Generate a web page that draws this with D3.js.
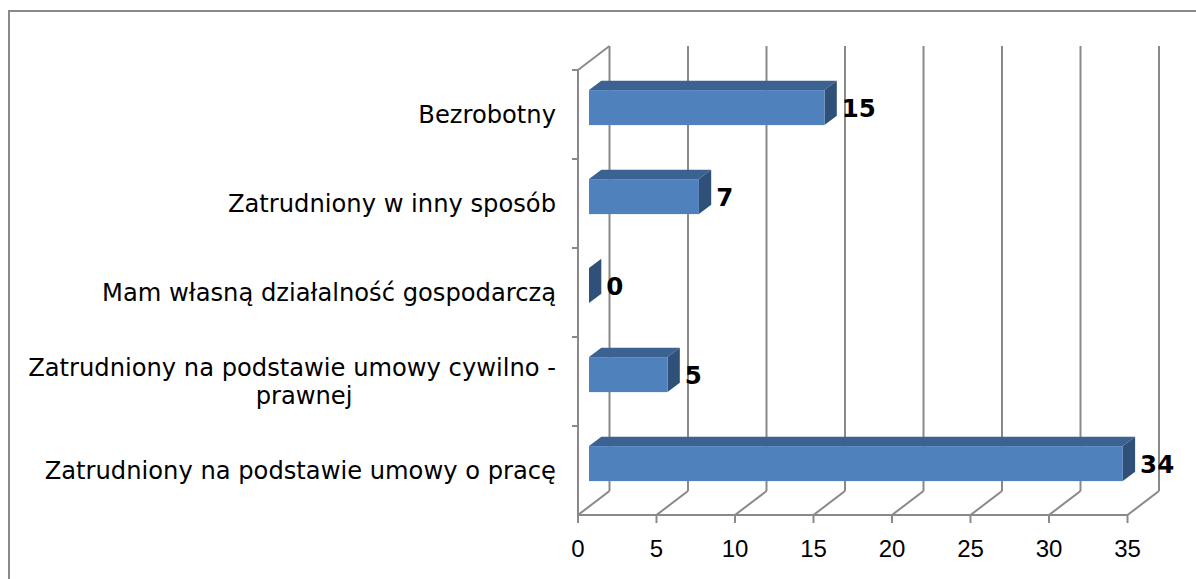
<!DOCTYPE html>
<html>
<head>
<meta charset="utf-8">
<script src="https://cdn.jsdelivr.net/npm/d3@7"></script>
<style>
  body { margin: 0; background: #fff; }
  svg { display: block; }
</style>
</head>
<body>
<div id="chart"></div>
<script>
// categories listed bottom to top, like the spreadsheet
const categories = [
  "Zatrudniony na podstawie umowy o pracę",
  "Zatrudniony na podstawie umowy cywilno - prawnej",
  "Mam własną działalność gospodarczą",
  "Zatrudniony w inny sposób",
  "Bezrobotny"
]
const values = [34, 5, 0, 7, 15]
const xTicks = [0, 5, 10, 15, 20, 25, 30, 35]

const width = 1196, height = 579
// depth offset of the back wall (3d look)
const DX = 31.5, DY = -24
const barFront = 0.35, barBack = 0.74
const barH = 35

const svg = d3.select("#chart")
  .append("svg")
  .attr("width", width)
  .attr("height", height)

svg.append("rect")
  .attr("width", width).attr("height", height)
  .attr("fill", "#fff")

// chart border (runs off the right/bottom of the picture)
svg.append("rect")
  .attr("x", 9).attr("y", 11)
  .attr("width", 1300).attr("height", 700)
  .attr("fill", "none")
  .attr("stroke", "#898989")
  .attr("stroke-width", 2)

const x = d3.scaleLinear()
  .domain([0, 35])
  .range([578, 1127.5])

const y = d3.scaleBand()
  .domain(categories)
  .range([515, 70])

const grid = "#898989"
const g = svg.append("g")

// back wall gridlines
g.selectAll(".vgrid")
  .data(xTicks)
  .join("line")
  .attr("x1", d => x(d) + DX).attr("x2", d => x(d) + DX)
  .attr("y1", 70 + DY).attr("y2", 515 + DY)
  .attr("stroke", grid).attr("stroke-width", 2)

// floor lines
g.selectAll(".floor")
  .data(xTicks)
  .join("line")
  .attr("x1", d => x(d)).attr("x2", d => x(d) + DX)
  .attr("y1", 515).attr("y2", 515 + DY)
  .attr("stroke", grid).attr("stroke-width", 2)

// left wall: front edge and top edge
g.append("line")
  .attr("x1", x(0)).attr("x2", x(0))
  .attr("y1", 70).attr("y2", 515)
  .attr("stroke", grid).attr("stroke-width", 2)
g.append("line")
  .attr("x1", x(0)).attr("x2", x(0) + DX)
  .attr("y1", 70).attr("y2", 70 + DY)
  .attr("stroke", grid).attr("stroke-width", 2)
// front floor edge
g.append("line")
  .attr("x1", x(0)).attr("x2", x(35))
  .attr("y1", 515).attr("y2", 515)
  .attr("stroke", grid).attr("stroke-width", 2)

// ticks
g.selectAll(".xtick")
  .data(xTicks)
  .join("line")
  .attr("x1", d => x(d)).attr("x2", d => x(d))
  .attr("y1", 515).attr("y2", 523)
  .attr("stroke", grid).attr("stroke-width", 2)

const bounds = categories.map(c => y(c)).concat([70])
g.selectAll(".ytick")
  .data(bounds)
  .join("line")
  .attr("x1", x(0) - 6).attr("x2", x(0))
  .attr("y1", d => d).attr("y2", d => d)
  .attr("stroke", grid).attr("stroke-width", 2)

// x tick labels
svg.selectAll(".xlabel")
  .data(xTicks)
  .join("text")
  .attr("x", d => x(d))
  .attr("y", 556.5)
  .attr("text-anchor", "middle")
  .attr("font-family", "'Liberation Sans', Arial, sans-serif")
  .attr("font-size", 24)
  .attr("fill", "#000")
  .text(d => d)

// category labels (wrapped)
const labelFont = "'DejaVu Sans', Verdana, sans-serif"
const labelSize = 24.2
const maxW = 540
const lineH = 28
const labelRight = 556

categories.forEach(function(c) {
  const t = svg.append("text")
    .attr("font-family", labelFont)
    .attr("font-size", labelSize)
    .attr("fill", "#000")
  const words = c.split(" ")
  const lines = []
  let cur = ""
  words.forEach(function(w) {
    const test = cur ? cur + " " + w : w
    t.text(test)
    if (t.node().getComputedTextLength() > maxW && cur) {
      lines.push(cur)
      cur = w
    } else {
      cur = test
    }
  })
  lines.push(cur)
  t.text(null)
  const widths = lines.map(function(l) {
    t.text(l)
    return t.node().getComputedTextLength()
  })
  t.text(null)
  const blockW = d3.max(widths)
  const cy = y(c) + y.bandwidth() / 2
  lines.forEach(function(l, i) {
    const base = cy + 8.5 + (i - (lines.length - 1) / 2) * lineH
    t.append("tspan")
      .attr("x", lines.length > 1 ? labelRight - blockW / 2 + (i > 0 ? 12 : 0) : labelRight)
      .attr("y", base)
      .attr("text-anchor", lines.length > 1 ? "middle" : "end")
      .text(l)
  })
})

// bars
const data = categories.map((c, i) => ({cat: c, value: values[i]}))
const bars = svg.selectAll(".bar")
  .data(data)
  .join("g")

function barGeom(d) {
  const cy = y(d.cat) + y.bandwidth() / 2
  const fx = DX * barFront, fy = DY * barFront
  const bx = DX * barBack, by = DY * barBack
  const x0 = x(0) + fx, x1 = x(d.value) + fx
  const top = cy + fy + 1.5 - barH / 2, bot = cy + fy + 1.5 + barH / 2
  const ddx = bx - fx, ddy = by - fy
  return {x0, x1, top, bot, ddx, ddy}
}

// top face
bars.append("path")
  .attr("fill", "#3c6291")
  .attr("d", function(d) {
    const b = barGeom(d)
    return `M${b.x0},${b.top}L${b.x1},${b.top}L${b.x1 + b.ddx},${b.top + b.ddy}L${b.x0 + b.ddx},${b.top + b.ddy}Z`
  })
// side face
bars.append("path")
  .attr("fill", "#2f5079")
  .attr("d", function(d) {
    const b = barGeom(d)
    return `M${b.x1},${b.top}L${b.x1 + b.ddx},${b.top + b.ddy}L${b.x1 + b.ddx},${b.bot + b.ddy}L${b.x1},${b.bot}Z`
  })
// front face
bars.append("rect")
  .attr("fill", "#4f81bd")
  .attr("x", d => barGeom(d).x0)
  .attr("y", d => barGeom(d).top)
  .attr("width", d => barGeom(d).x1 - barGeom(d).x0)
  .attr("height", barH)

// value labels
bars.append("text")
  .attr("x", d => { const b = barGeom(d); return b.x1 + b.ddx + 5 })
  .attr("y", d => { const b = barGeom(d); return (b.top + b.bot) / 2 + 9.5 })
  .attr("font-family", labelFont)
  .attr("font-weight", "bold")
  .attr("font-size", 24.5)
  .attr("fill", "#000")
  .text(d => d.value)
</script>
</body>
</html>
